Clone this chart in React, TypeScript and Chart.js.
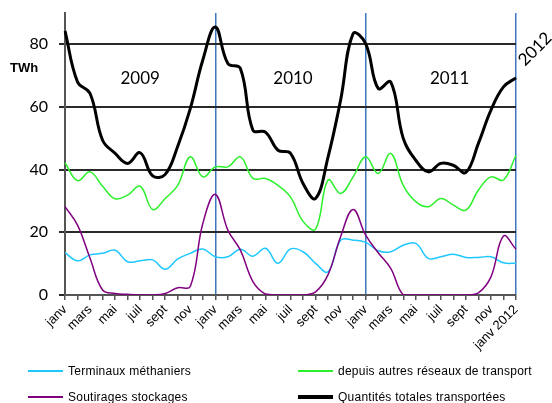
import React, { useEffect, useRef } from 'react';
import { Chart, registerables } from 'chart.js';
Chart.register(...registerables);

const monthNames = ['janv', 'févr', 'mars', 'avr', 'mai', 'juin', 'juil', 'août', 'sept', 'oct', 'nov', 'déc'];
const labels = [...monthNames, ...monthNames, ...monthNames, 'janv 2012'];

const terminaux = [13.5, 10.9, 12.8, 13.3, 14.3, 10.6, 10.9, 11.2, 8.2, 11.5, 13.3, 14.7, 12.2, 12.2, 14.6, 12.4, 14.9, 10.1, 14.7, 13.8, 10.1, 7.4, 17.5, 17.5, 16.8, 14.1, 13.8, 15.9, 16.5, 11.7, 12.2, 13.0, 12.0, 12.0, 12.2, 10.3, 10.1];
const autresReseaux = [42.2, 36.5, 39.3, 34.7, 30.7, 31.9, 34.7, 27.3, 30.8, 35.0, 44.1, 37.7, 40.9, 40.9, 44.1, 37.2, 37.2, 35.0, 31.3, 23.5, 21.0, 36.7, 32.4, 37.7, 44.1, 38.8, 45.2, 35.0, 29.8, 28.2, 30.8, 28.7, 27.1, 33.5, 37.7, 36.7, 44.6];
const soutirages = [28.2, 22.3, 11.7, 1.6, 0.5, 0.2, 0, 0, 0.5, 2.3, 2.7, 22.8, 32.1, 20.7, 14.3, 4.3, 0.3, 0, 0, 0, 1.0, 6.5, 18.6, 27.3, 19.1, 13.5, 8.5, 0, 0, 0, 0, 0, 0, 0.7, 5.8, 18.8, 14.6];
const totales = [84.3, 68.0, 64.3, 49.4, 45.2, 42.0, 45.4, 38.0, 38.5, 47.5, 59.5, 75.0, 85.5, 73.9, 72.3, 52.6, 52.0, 46.2, 45.2, 35.6, 30.8, 44.1, 62.2, 83.4, 80.2, 65.9, 68.0, 50.0, 43.0, 39.3, 42.0, 41.4, 39.1, 48.4, 59.0, 66.4, 69.3];

const yearLabels = ['2009', '2010', '2011', '2012'];
const seriesNames = ['Terminaux méthaniers', 'depuis autres réseaux de transport', 'Soutirages stockages', 'Quantités totales transportées'];
const unitLabel = 'TWh';

const CYAN = '#1EC8FF';
const GREEN = '#2BF02B';
const PURPLE = '#800080';
const BLACK = '#000000';
const BLUE = '#3F76C0';
const GRID = '#2a2a2a';
const AXIS = '#555555';

const overlayPlugin = {
  id: 'overlay',
  afterDraw(chart: any) {
    const { ctx, scales, chartArea } = chart;
    const x = scales.x;
    const y = scales.y;
    ctx.save();
    ctx.fillStyle = '#000';
    ctx.font = '17px Lato';
    ctx.textAlign = 'center';
    ctx.textBaseline = 'middle';
    const anchors = [6.0, 18.2, 30.7];
    anchors.forEach((p, k) => {
      ctx.fillText(yearLabels[k], x.getPixelForValue(p), y.getPixelForValue(69));
    });
    ctx.translate(chartArea.right + 19, y.getPixelForValue(78.5));
    ctx.rotate(-Math.PI / 4);
    ctx.fillText(yearLabels[3], 0, 0);
    ctx.restore();

    ctx.save();
    ctx.fillStyle = '#000';
    ctx.font = 'bold 13px "Liberation Sans"';
    ctx.textAlign = 'left';
    ctx.textBaseline = 'alphabetic';
    ctx.fillText(unitLabel, 10, y.getPixelForValue(71.1));
    ctx.restore();
  },
};

export default function App() {
  const ref = useRef<HTMLCanvasElement>(null);

  useEffect(() => {
    if (!ref.current) return;
    const januaries = [12, 24, 36];
    const chart = new Chart(ref.current, {
      type: 'line',
      data: {
        labels,
        datasets: [
          { label: seriesNames[3], data: totales, borderColor: BLACK, borderWidth: 3, pointRadius: 0, tension: 0.4, fill: false },
          { label: seriesNames[2], data: soutirages, borderColor: PURPLE, borderWidth: 1.5, pointRadius: 0, tension: 0.4, fill: false },
          { label: seriesNames[1], data: autresReseaux, borderColor: GREEN, borderWidth: 1.5, pointRadius: 0, tension: 0.4, fill: false },
          { label: seriesNames[0], data: terminaux, borderColor: CYAN, borderWidth: 1.5, pointRadius: 0, tension: 0.4, fill: false },
        ],
      },
      options: {
        responsive: false,
        animation: false,
        devicePixelRatio: 1,
        layout: { padding: { left: 0, right: 36, top: 13, bottom: 0 } },
        plugins: { legend: { display: false }, tooltip: { enabled: false } },
        scales: {
          x: {
            type: 'category',
            afterFit(scale: any) { scale.height = 108; scale.paddingLeft = 0; scale.paddingRight = 0; },
            border: { color: AXIS, width: 2 },
            grid: {
              display: true,
              drawOnChartArea: true,
              tickLength: 5,
              tickColor: AXIS,
              lineWidth: 1.5,
              color: (c: any) => (januaries.includes(c.index) ? BLUE : 'rgba(0,0,0,0)'),
            },
            ticks: {
              autoSkip: false,
              minRotation: 45,
              maxRotation: 45,
              padding: 2,
              color: '#000',
              font: { family: '"Liberation Sans", Arial, sans-serif', size: 13 },
              callback: (_v: any, i: number) => (i % 2 === 0 ? labels[i] : ''),
            },
          },
          y: {
            min: 0,
            max: 90,
            afterFit(scale: any) { scale.width = 65; scale.paddingTop = 0; scale.paddingBottom = 0; },
            border: { color: AXIS, width: 2 },
            grid: {
              color: (c: any) => (c.tick && c.tick.value === 0 ? AXIS : GRID),
              lineWidth: 2,
              tickLength: 6,
              tickColor: GRID,
            },
            ticks: {
              stepSize: 20,
              includeBounds: false,
              padding: 11,
              color: '#000',
              font: { family: 'Lato, sans-serif', size: 16 },
            },
          },
        },
      },
      plugins: [overlayPlugin],
    } as any);
    return () => chart.destroy();
  }, []);

  const legend = [
    { name: seriesNames[0], color: CYAN, h: 2, left: 28, top: 371 },
    { name: seriesNames[2], color: PURPLE, h: 2, left: 28, top: 397 },
    { name: seriesNames[1], color: GREEN, h: 2, left: 298, top: 371 },
    { name: seriesNames[3], color: BLACK, h: 4, left: 298, top: 397 },
  ];

  return (
    <div style={{ position: 'absolute', left: 0, top: 0, width: 552, height: 403, background: '#fff', overflow: 'hidden' }}>
      <canvas ref={ref} width={552} height={403} style={{ width: 552, height: 403, display: 'block' }} />
      {legend.map((it) => (
        <div key={it.name}>
          <div style={{ position: 'absolute', left: it.left, top: it.top - it.h / 2, width: 35, height: it.h, background: it.color }} />
          <div
            style={{
              position: 'absolute',
              left: it.left + 40,
              top: it.top - 8,
              height: 16,
              lineHeight: '16px',
              fontFamily: '"Liberation Sans", Arial, sans-serif',
              fontSize: 12,
              letterSpacing: '0.25px',
              color: '#000',
              whiteSpace: 'nowrap',
            }}
          >
            {it.name}
          </div>
        </div>
      ))}
    </div>
  );
}
